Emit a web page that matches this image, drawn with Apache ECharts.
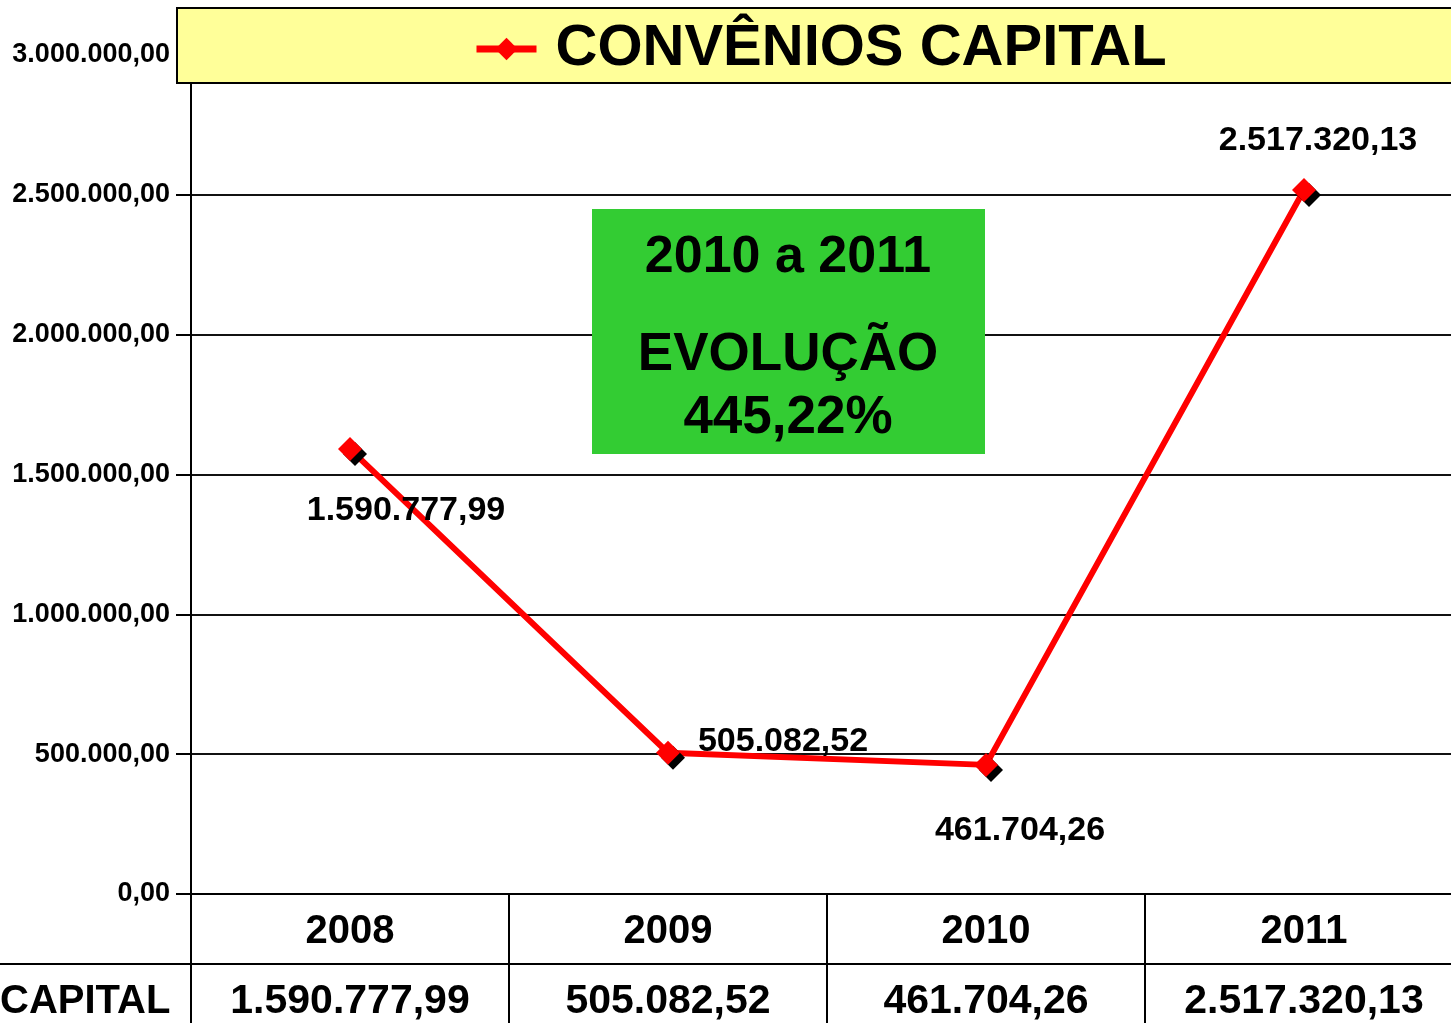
<!DOCTYPE html>
<html>
<head>
<meta charset="utf-8">
<title>Convênios Capital</title>
<script src="https://cdn.jsdelivr.net/npm/echarts@6/dist/echarts.min.js"></script>
<style>
  html, body { margin: 0; padding: 0; background: #fff; }
  #main { width: 1451px; height: 1023px; }
</style>
</head>
<body>
<div id="main"></div>
<script>
// dados do gráfico
var anos = ['2008', '2009', '2010', '2011'];
var capital = [1590777.99, 505082.52, 461704.26, 2517320.13];
// deslocamento de cada rótulo em relação ao ponto
var labelOffsets = [[56, 62], [115, -11], [34, 66], [14, -49]];

var FONT = 'Liberation Sans, Arial, sans-serif';

// formata no padrão brasileiro: 1.590.777,99
function fmtBR(v) {
    var parts = v.toFixed(2).split('.');
    var inteiro = parts[0].replace(/\B(?=(\d{3})+(?!\d))/g, '.');
    return inteiro + ',' + parts[1];
}

var chart = echarts.init(document.getElementById('main'));

var pontos = capital.map(function (v, i) {
    return {
        value: v,
        label: { offset: labelOffsets[i] }
    };
});

chart.setOption({
    animation: false,
    backgroundColor: '#fff',
    textStyle: { fontFamily: FONT },
    // a área do gráfico passa um pouco da borda direita, como no original
    grid: {
        left: 191, right: -12, top: 55, bottom: 129,
        containLabel: false,
        outerBoundsMode: 'none'
    },
    legend: {
        top: 20,
        left: 473,
        padding: 0,
        z: 10,
        itemWidth: 60,
        itemHeight: 28,
        data: ['CONVÊNIOS CAPITAL'],
        lineStyle: { width: 7 },
        textStyle: {
            fontFamily: FONT,
            fontWeight: 'bold',
            fontSize: 58,
            color: '#000',
            padding: [0, 0, 0, 14]
        }
    },
    xAxis: {
        type: 'category',
        data: anos,
        boundaryGap: true,
        axisLine: { lineStyle: { color: '#000', width: 2 } },
        axisTick: { show: true, inside: false, length: 130, lineStyle: { color: '#000', width: 2 } },
        axisLabel: {
            margin: 3,
            formatter: function (val, idx) {
                return '{y|' + val + '}\n{v|' + fmtBR(capital[idx]) + '}';
            },
            rich: {
                y: { fontFamily: FONT, fontWeight: 'bold', fontSize: 40, lineHeight: 70, color: '#000' },
                v: { fontFamily: FONT, fontWeight: 'bold', fontSize: 41, lineHeight: 70, color: '#000' }
            }
        },
        splitLine: { show: false }
    },
    yAxis: {
        type: 'value',
        min: 0,
        max: 3000000,
        interval: 500000,
        axisLine: { show: true, lineStyle: { color: '#000', width: 2 } },
        axisTick: { show: true, length: 15, lineStyle: { color: '#000', width: 2 } },
        axisLabel: {
            margin: 21,
            fontFamily: FONT,
            fontWeight: 'bold',
            fontSize: 27,
            color: '#000',
            formatter: function (v) { return fmtBR(v); }
        },
        splitLine: { show: true, lineStyle: { color: '#111', width: 2 } }
    },
    series: [{
        name: 'CONVÊNIOS CAPITAL',
        type: 'line',
        data: pontos,
        symbol: 'diamond',
        symbolSize: 24,
        z: 5,
        lineStyle: { color: '#ff0000', width: 6 },
        itemStyle: {
            color: '#ff0000',
            shadowColor: '#000',
            shadowBlur: 0,
            shadowOffsetX: 5,
            shadowOffsetY: 5
        },
        label: {
            show: true,
            position: 'inside',
            fontFamily: FONT,
            fontWeight: 'bold',
            fontSize: 34,
            color: '#000',
            formatter: function (p) { return fmtBR(p.value); }
        }
    }],
    graphic: [
        // caixa amarela do título
        {
            type: 'rect',
            z: 1,
            shape: { x: 177, y: 8, width: 1290, height: 75 },
            style: { fill: '#ffff99', stroke: '#000', lineWidth: 2 }
        },
        // caixa verde de destaque
        {
            type: 'rect',
            z: 1,
            shape: { x: 592, y: 209, width: 393, height: 245 },
            style: { fill: '#33cc33' }
        },
        {
            type: 'text', z: 2, x: 788, y: 258,
            style: { text: '2010 a 2011', font: 'bold 52px ' + FONT, fill: '#000', align: 'center', verticalAlign: 'middle' }
        },
        {
            type: 'text', z: 2, x: 788, y: 355,
            style: { text: 'EVOLUÇÃO', font: 'bold 53px ' + FONT, fill: '#000', align: 'center', verticalAlign: 'middle' }
        },
        {
            type: 'text', z: 2, x: 788, y: 418,
            style: { text: '445,22%', font: 'bold 53px ' + FONT, fill: '#000', align: 'center', verticalAlign: 'middle' }
        },
        // tabela de dados
        {
            type: 'line', z: 2,
            shape: { x1: 0, y1: 964, x2: 1451, y2: 964 },
            style: { stroke: '#000', lineWidth: 2 }
        },
        {
            type: 'text', z: 2, x: 0, y: 1002,
            style: { text: 'CAPITAL', font: 'bold 40px ' + FONT, fill: '#000', align: 'left', verticalAlign: 'middle' }
        }
    ]
});
</script>
</body>
</html>
